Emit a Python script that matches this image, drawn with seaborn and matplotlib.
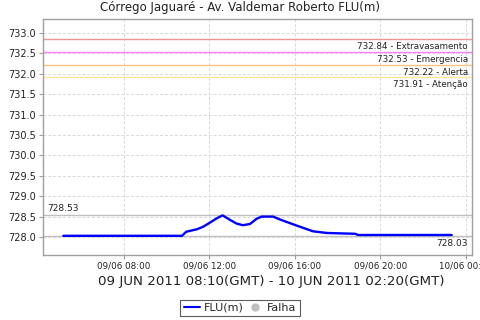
import matplotlib
matplotlib.use("Agg")
import matplotlib.pyplot as plt
import matplotlib.dates as mdates
import matplotlib.transforms as mtransforms
from matplotlib.lines import Line2D
import seaborn as sns
import pandas as pd

# ---- data (local time, 09/06/2011) ----
times = ["05:10", "10:43", "10:55", "11:25", "11:42", "12:01", "12:21", "12:37",
         "12:58", "13:16", "13:34", "13:54", "14:13", "14:27", "14:59", "15:18",
         "16:05", "16:51", "17:29", "18:06", "18:49", "18:57", "23:20"]
values = [728.03, 728.03, 728.13, 728.19, 728.25, 728.35, 728.46, 728.53,
          728.42, 728.33, 728.29, 728.32, 728.45, 728.50, 728.50, 728.43,
          728.28, 728.14, 728.10, 728.09, 728.08, 728.05, 728.05]

thr_values = [732.84, 732.53, 732.22, 731.91]
thr_names = ["Extravasamento", "Emergencia", "Alerta", "Atenção"]
thr_colors = ["#f29494", "#ff80ff", "#ffc080", "#ffe49a"]

max_value = 728.53
min_value = 728.03

title = "Córrego Jaguaré - Av. Valdemar Roberto FLU(m)"
xlabel = "09 JUN 2011 08:10(GMT) - 10 JUN 2011 02:20(GMT)"

df = pd.DataFrame({
    "time": pd.to_datetime(["2011-06-09 " + t for t in times]),
    "FLU(m)": values,
})

sns.set_style("white")
plt.rcParams["font.family"] = ["DejaVu Sans"]

fig = plt.figure(figsize=(4.8, 3.2), dpi=100)
ax = fig.add_axes([43 / 480, 1 - 255 / 320, (472 - 43) / 480, (255 - 19) / 320])

# reference lines
for v, c in zip(thr_values, thr_colors):
    ax.axhline(v, color=c, lw=1.0, zorder=2)
ax.axhline(max_value, color="#c0c0c0", lw=1.0, zorder=2)
ax.axhline(min_value, color="#c0c0c0", lw=1.0, zorder=2)

sns.lineplot(data=df, x="time", y="FLU(m)", ax=ax, color="#0000ff", lw=1.7,
             legend=False, zorder=3)

ax.set_xlim(pd.Timestamp("2011-06-09 04:13"), pd.Timestamp("2011-06-10 00:17"))
ax.set_ylim(727.56, 733.34)

ax.set_yticks([728.0 + 0.5 * i for i in range(11)])
ax.yaxis.set_major_formatter(matplotlib.ticker.FormatStrFormatter("%.1f"))
ax.xaxis.set_major_locator(mdates.HourLocator(byhour=[0, 8, 12, 16, 20]))
ax.xaxis.set_major_formatter(mdates.DateFormatter("%d/%m %H:%M"))

ax.grid(True, color="#d8d8d8", ls=(0, (3, 2)), lw=0.7)
ax.set_axisbelow(True)
for s in ax.spines.values():
    s.set_color("#a0a0a0")
    s.set_linewidth(1.0)

ax.tick_params(axis="y", labelsize=7, length=3, width=0.8, color="#a0a0a0",
               pad=2, labelcolor="#222222", left=True)
ax.tick_params(axis="x", labelsize=6.3, length=3, width=0.8, color="#a0a0a0",
               pad=2, labelcolor="#222222", bottom=True)

ax.set_xlabel("")
ax.set_ylabel("")
fig.text(271.5 / 480, 1 - 282 / 320, xlabel, fontsize=9.6, color="#222222",
         ha="center", va="center")
fig.text(0.5, 1 - 8 / 320, title, fontsize=8.5, color="#222222",
         ha="center", va="center")

trans = mtransforms.blended_transform_factory(ax.transAxes, ax.transData)
for v, n in zip(thr_values, thr_names):
    ax.annotate(f"{v:.2f} - {n}", xy=(1, v), xycoords=trans,
                xytext=(-3, -2), textcoords="offset points",
                ha="right", va="top", fontsize=6.3, color="#222222")
ax.annotate(f"{max_value:.2f}", xy=(0, max_value), xycoords=trans,
            xytext=(3, 2), textcoords="offset points",
            ha="left", va="bottom", fontsize=6.5, color="#222222")
ax.annotate(f"{min_value:.2f}", xy=(1, min_value), xycoords=trans,
            xytext=(-3, -2), textcoords="offset points",
            ha="right", va="top", fontsize=6.5, color="#222222")

handles = [Line2D([], [], color="#0000ff", lw=1.5, label="FLU(m)"),
           Line2D([], [], marker="o", color="#c0c0c0", ls="", ms=5, label="Falha")]
leg = fig.legend(handles=handles, loc="center", bbox_to_anchor=(0.5, 1 - 308 / 320),
                 ncol=2, fontsize=8, frameon=True, fancybox=False,
                 edgecolor="#333333", handlelength=1.5, handletextpad=0.3,
                 columnspacing=0.3, borderpad=0.3, borderaxespad=0)
leg.get_frame().set_linewidth(0.8)

fig.savefig("out.png", dpi=100)
